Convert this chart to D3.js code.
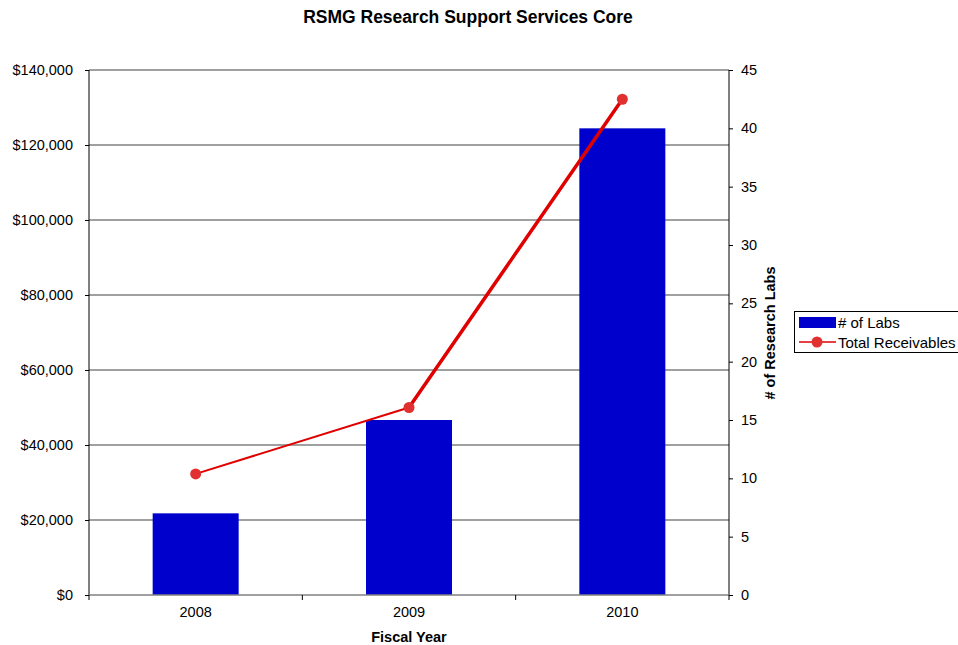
<!DOCTYPE html>
<html><head><meta charset="utf-8">
<script src="https://cdn.jsdelivr.net/npm/d3@7"></script>
<style>body{margin:0;background:#fff;font-family:"Liberation Sans",Arial,sans-serif}</style>
</head><body><svg id="c" width="958" height="645"></svg>
<script>
const categories = ["2008","2009","2010"];
const labs = [7, 15, 40];
const receivables = [32300, 50000, 132200];
const leftTicks = [0,20000,40000,60000,80000,100000,120000,140000];
const rightTicks = [0,5,10,15,20,25,30,35,40,45];
const segWidths = [2, 3.5];

const svg = d3.select("#c");
const L=89, R=729, T=70, B=595;
const x = d3.scaleBand().domain(categories).range([L,R]).paddingInner(0).paddingOuter(0);
const yL = d3.scaleLinear().domain([0,140000]).range([B,T]);
const yR = d3.scaleLinear().domain([0,45]).range([B,T]);
const font = '"Liberation Sans",Arial,sans-serif';
const fs = 14.5;

// gridlines
svg.append("g").selectAll("line").data(leftTicks.slice(1)).join("line")
  .attr("x1",L).attr("x2",R).attr("y1",d=>yL(d)).attr("y2",d=>yL(d))
  .attr("stroke","#808080").attr("stroke-width",1.5);

// bars
const bw = 86;
svg.append("g").selectAll("rect").data(categories).join("rect")
  .attr("x",(d)=>x(d)+x.bandwidth()/2-bw/2).attr("width",bw)
  .attr("y",(d,i)=>yR(labs[i])).attr("height",(d,i)=>B-yR(labs[i]))
  .attr("fill","#0000cc");

// axes
const fmt = d=>"$"+d3.format(",")(d);
const gl = svg.append("g").attr("transform",`translate(${L},0)`)
  .call(d3.axisLeft(yL).tickValues(leftTicks).tickFormat(fmt).tickSize(4).tickPadding(12));
const gr = svg.append("g").attr("transform",`translate(${R},0)`)
  .call(d3.axisRight(yR).tickValues(rightTicks).tickSize(4).tickPadding(8));
const gb = svg.append("g").attr("transform",`translate(0,${B})`)
  .call(d3.axisBottom(x).tickSize(0).tickPadding(12));
// boundary ticks on x axis
svg.append("g").selectAll("line").data([0,1,2,3]).join("line")
  .attr("x1",i=>L+i*x.bandwidth()).attr("x2",i=>L+i*x.bandwidth())
  .attr("y1",B).attr("y2",B+5).attr("stroke","#000");
[gl,gr,gb].forEach(g=>{
  g.selectAll("text").attr("font-family",font).attr("font-size",fs).attr("fill","#000");
  g.selectAll("line").attr("stroke","#000");
});
gl.select(".domain").attr("stroke","#000").attr("d",`M0,${T}V${B}`);
gr.select(".domain").attr("stroke","#000").attr("d",`M0,${T}V${B}`);
gb.select(".domain").attr("stroke","#808080").attr("stroke-width",1.5).attr("d",`M${L},0H${R}`);

// line segments
const pts = categories.map((c,i)=>[x(c)+x.bandwidth()/2, yL(receivables[i])]);
svg.append("g").selectAll("line").data(pts.slice(1)).join("line")
  .attr("x1",(d,i)=>pts[i][0]).attr("y1",(d,i)=>pts[i][1])
  .attr("x2",d=>d[0]).attr("y2",d=>d[1])
  .attr("stroke","#e00000").attr("stroke-width",(d,i)=>segWidths[i]).attr("stroke-linecap","round");
svg.append("g").selectAll("circle").data(pts).join("circle")
  .attr("cx",d=>d[0]).attr("cy",d=>d[1]).attr("r",5.5).attr("fill","#e03030");

// titles
svg.append("text").attr("x",468).attr("y",23).attr("text-anchor","middle")
  .attr("font-family",font).attr("font-size",17.5).attr("font-weight","bold").text("RSMG Research Support Services Core");
svg.append("text").attr("x",409).attr("y",642).attr("text-anchor","middle")
  .attr("font-family",font).attr("font-size",fs).attr("font-weight","bold").text("Fiscal Year");
svg.append("text").attr("transform","translate(775,333) rotate(-90)").attr("text-anchor","middle")
  .attr("font-family",font).attr("font-size",fs).attr("font-weight","bold").text("# of Research Labs");

// legend
const lg = svg.append("g");
lg.append("rect").attr("x",794.5).attr("y",311.5).attr("width",170).attr("height",41)
  .attr("fill","#fff").attr("stroke","#000");
lg.append("rect").attr("x",799).attr("y",317).attr("width",37).attr("height",11).attr("fill","#0000cc");
lg.append("text").attr("x",838).attr("y",328).attr("font-family",font).attr("font-size",15).text("# of Labs");
lg.append("line").attr("x1",799).attr("x2",836).attr("y1",342).attr("y2",342).attr("stroke","#e00000").attr("stroke-width",1.5);
lg.append("circle").attr("cx",817).attr("cy",342).attr("r",5.5).attr("fill","#e03030");
lg.append("text").attr("x",838).attr("y",348).attr("font-family",font).attr("font-size",15).text("Total Receivables");
</script></body></html>
